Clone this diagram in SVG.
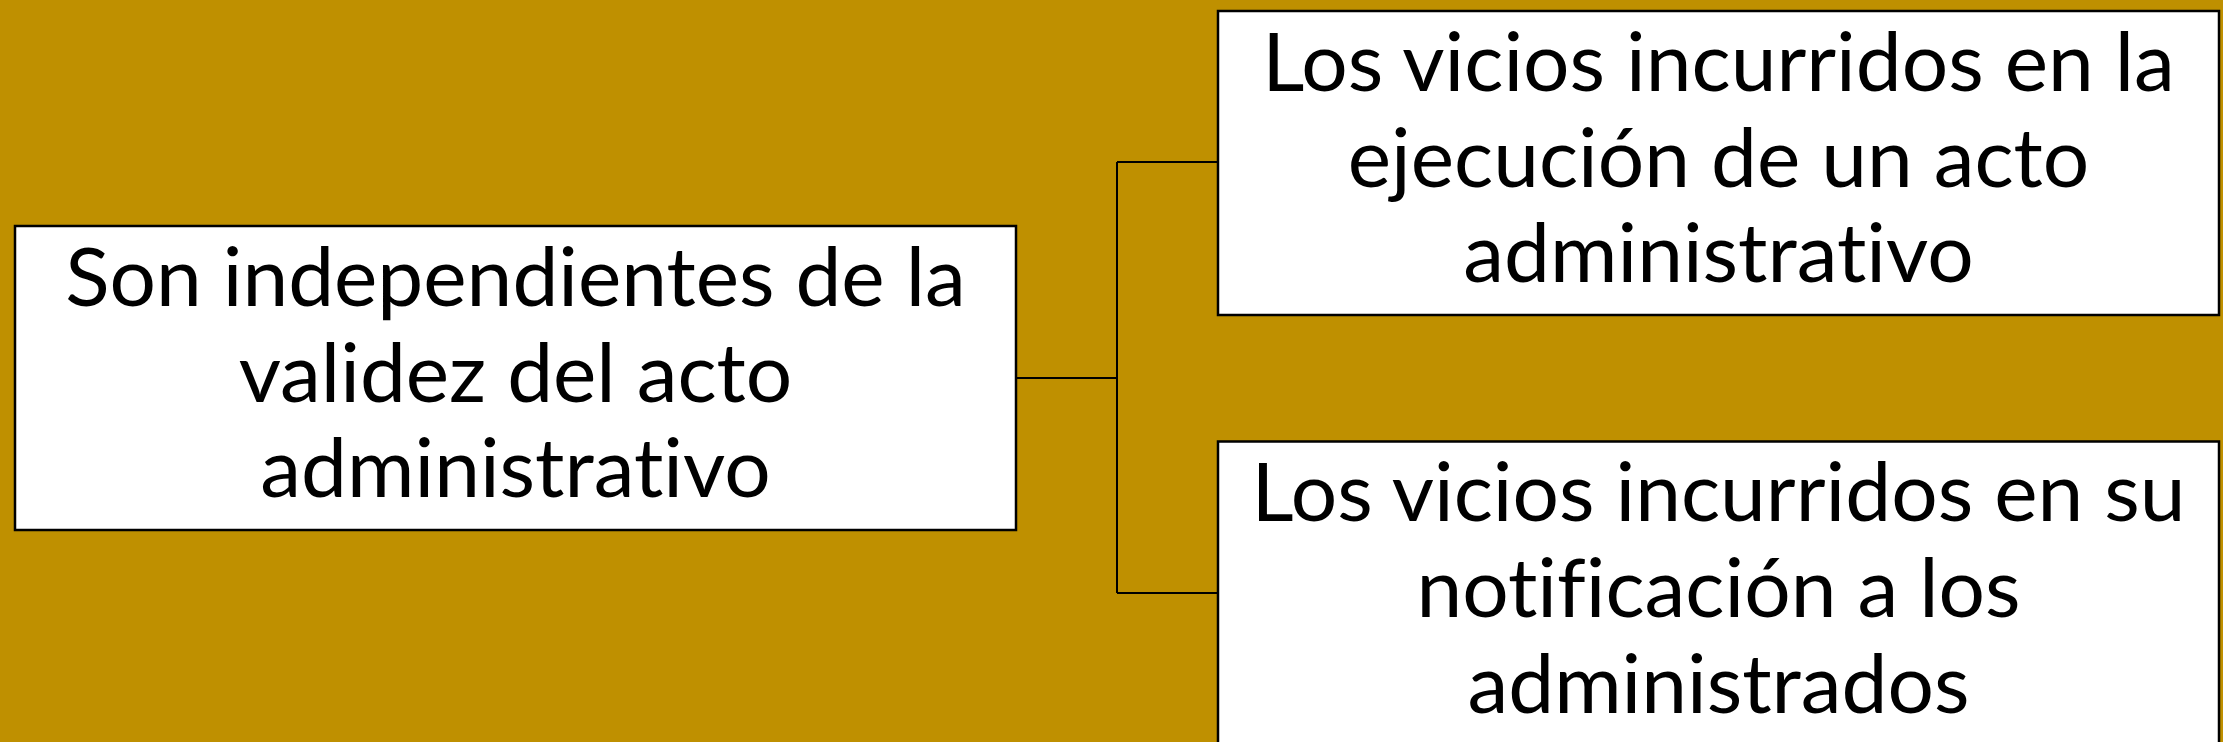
<svg xmlns="http://www.w3.org/2000/svg" width="2223" height="742" viewBox="0 0 2223 742">
<style>
.box{fill:#FFFFFF;stroke:#000000;stroke-width:2.5}
.conn{fill:none;stroke:#000000;stroke-width:2}
.lbl{font-family:Lato,"Open Sans",sans-serif;font-size:82px;fill:#000000;text-anchor:middle;font-variant-ligatures:none;font-feature-settings:"liga" 0}
</style>
<rect x="0" y="0" width="2223" height="742" fill="#BF9000"/>
<g id="connectors">
<path class="conn" d="M1017 378 H1117 M1117 162 V593 M1117 162 H1217 M1117 593 H1217"/>
</g>
<g id="node-left">
<rect class="box" x="15" y="226" width="1001" height="304"/>
<text class="lbl" x="515.5" y="306">Son independientes de la</text>
<text class="lbl" x="515.5" y="402">validez del acto</text>
<text class="lbl" x="515.5" y="497">administrativo</text>
</g>
<g id="node-top">
<rect class="box" x="1218" y="11" width="1001" height="304"/>
<text class="lbl" x="1718.5" y="91">Los vicios incurridos en la</text>
<text class="lbl" x="1718.5" y="187">ejecución de un acto</text>
<text class="lbl" x="1718.5" y="282">administrativo</text>
</g>
<g id="node-bottom">
<rect class="box" x="1218" y="441.5" width="1001" height="304"/>
<text class="lbl" x="1718.5" y="521">Los vicios incurridos en su</text>
<text class="lbl" x="1718.5" y="617">notificación a los</text>
<text class="lbl" x="1718.5" y="713">administrados</text>
</g>
</svg>
